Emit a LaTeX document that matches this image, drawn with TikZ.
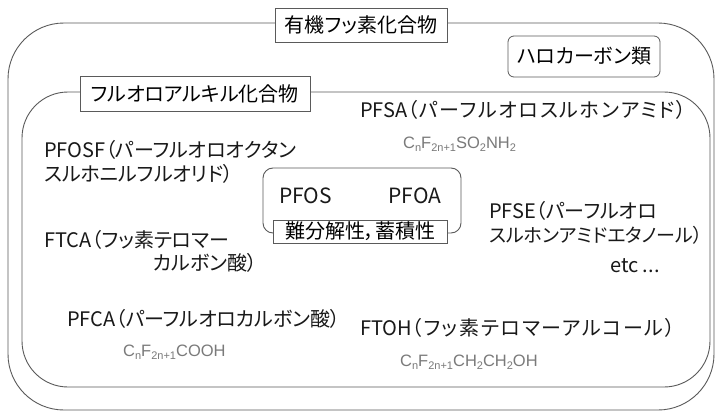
\documentclass[tikz,border=0pt]{standalone}
\usepackage{fontspec}
\setmainfont{Noto Sans CJK JP}[RawFeature={+palt}]
\newfontfamily\widefont{Noto Sans CJK JP}[RawFeature={+palt},LetterSpace=8.5]
\newfontfamily\formfont{Liberation Sans}
\definecolor{frame}{HTML}{5A5A5A}
\definecolor{formula}{HTML}{7A7A7A}
\newcommand{\sbs}[1]{\raisebox{-0.35ex}{\fontsize{11}{12}\selectfont #1}}
\newcommand{\widetxt}[1]{{\widefont\fontsize{20}{24}\selectfont #1}}
\begin{document}
\begin{tikzpicture}[x=1pt,y=-1pt,
  txt/.style={anchor=west,inner sep=0pt,font=\fontsize{20}{24}\selectfont,text=black!90},
  txtn/.style={txt,font=\fontsize{19}{24}\selectfont},
  labelbox/.style={draw=frame,fill=white,line width=0.8pt,inner sep=0pt,font=\fontsize{20}{24}\selectfont},
  frm/.style={draw=frame,line width=0.9pt},
  chem/.style={anchor=west,inner sep=0pt,text=formula,font=\formfont\fontsize{16.5}{18}\selectfont}]
\useasboundingbox[fill=white] (0,0) rectangle (715,412);
% outer frame
\draw[frm,rounded corners=56pt] (8,23) rectangle (714,410);
\node[labelbox,minimum width=172pt,minimum height=34pt] (org) at (361,25) {有機フッ素化合物};
\node[labelbox,rounded corners=6pt,minimum width=152pt,minimum height=41pt] (halo) at (584,56.5) {ハロカーボン類};
% inner frame
\draw[frm,rounded corners=46pt] (22,92) rectangle (710,387);
\node[labelbox,minimum width=230pt,minimum height=35pt] (fa) at (195,93.5) {フルオロアルキル化合物};
% center box
\draw[frm,rounded corners=10pt] (263,168) rectangle (461,233);
\node[labelbox,minimum width=174pt,minimum height=23pt] (prop) at (360,231.5) {難分解性，蓄積性};
\node[txt,anchor=center,font=\fontsize{21}{24}\selectfont] (pfos) at (305.5,196) {PFOS};
\node[txt,anchor=center,font=\fontsize{21}{24}\selectfont] (pfoa) at (415,196) {PFOA};
% texts
\node[txt] (pfsa) at (360,110) {PFSA\widetxt{（パーフルオロスルホンアミド）}};
\node[chem] (f1) at (403,144) {C\sbs{n}F\sbs{2n+1}SO\sbs{2}NH\sbs{2}};
\node[txt] (pfosf1) at (44,150) {PFOSF（パーフルオロオクタン};
\node[txt] (pfosf2) at (44,174) {スルホニルフルオリド）};
\node[txt] (pfse1) at (489,211) {PFSE（パーフルオロ};
\node[txtn] (pfse2) at (489,235) {スルホンアミドエタノール）};
\node[txt] (etc) at (610,266) {etc ...};
\node[txt] (ftca1) at (44,240) {FTCA（フッ素テロマー};
\node[txt] (ftca2) at (153,263) {カルボン酸）};
\node[txt] (pfca) at (67,319) {PFCA（パーフルオロカルボン酸）};
\node[chem] (f2) at (123,352) {C\sbs{n}F\sbs{2n+1}COOH};
\node[txt] (ftoh) at (360,328) {FTOH\widetxt{（フッ素テロマーアルコール）}};
\node[chem] (f3) at (400,362) {C\sbs{n}F\sbs{2n+1}CH\sbs{2}CH\sbs{2}OH};
\end{tikzpicture}
\end{document}
